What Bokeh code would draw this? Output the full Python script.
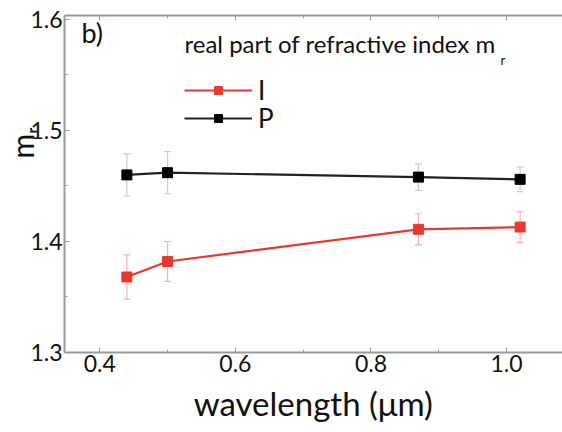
from bokeh.plotting import figure
from bokeh.models import (ColumnDataSource, Whisker, TeeHead, Legend, LegendItem,
                          LinearAxis, Label, FixedTicker, Range1d, Title)
from bokeh.embed import file_html
from bokeh.resources import INLINE

# Real part of the refractive index versus wavelength
wavelength = [0.44, 0.50, 0.87, 1.02]
mr_I = [1.368, 1.382, 1.411, 1.413]
err_I = [0.020, 0.018, 0.014, 0.014]
mr_P = [1.460, 1.462, 1.458, 1.456]
err_P = [0.019, 0.019, 0.012, 0.011]

x_ticks = [0.4, 0.6, 0.8, 1.0]
x_minor = [0.5, 0.7, 0.9]
y_ticks = [1.3, 1.4, 1.5, 1.6]
y_minor = [1.35, 1.45, 1.55]

FONT = "Lato"
RED = "#e8392f"
RED_ERR = "#f5b5b1"
BLACK = "#000000"
GRAY_ERR = "#cccccc"
AXIS = "#9a9a9a"
TEXT = "#111111"

p = figure(width=562, height=432, output_backend="svg", toolbar_location=None,
           x_range=Range1d(0.348, 1.0825), y_range=Range1d(1.3, 1.6036),
           min_border_left=64, min_border_right=0, min_border_top=15,
           min_border_bottom=80)
p.outline_line_color = None
p.grid.visible = False
p.background_fill_color = "white"
p.border_fill_color = "white"

src_I = ColumnDataSource(dict(x=wavelength, y=mr_I,
                              lo=[v - e for v, e in zip(mr_I, err_I)],
                              hi=[v + e for v, e in zip(mr_I, err_I)]))
src_P = ColumnDataSource(dict(x=wavelength, y=mr_P,
                              lo=[v - e for v, e in zip(mr_P, err_P)],
                              hi=[v + e for v, e in zip(mr_P, err_P)]))

for src, col in ((src_I, RED_ERR), (src_P, GRAY_ERR)):
    w = Whisker(source=src, base="x", upper="hi", lower="lo",
                line_color=col, line_width=1.2,
                upper_head=TeeHead(size=7, line_color=col, line_width=1.2),
                lower_head=TeeHead(size=7, line_color=col, line_width=1.2))
    p.add_layout(w)

l_I = p.line("x", "y", source=src_I, line_color=RED, line_width=2.2)
s_I = p.scatter("x", "y", source=src_I, marker="square", size=10,
                fill_color=RED, line_color=RED)
l_P = p.line("x", "y", source=src_P, line_color="#222222", line_width=2.2)
s_P = p.scatter("x", "y", source=src_P, marker="square", size=10,
                fill_color=BLACK, line_color=BLACK)

# axes: ticks pointing inward, grey axis lines
for ax in (p.xaxis[0], p.yaxis[0]):
    ax.axis_line_color = AXIS
    ax.axis_line_width = 2
    ax.major_tick_line_color = AXIS
    ax.minor_tick_line_color = AXIS
    ax.major_tick_in = 5
    ax.major_tick_out = 0
    ax.minor_tick_in = 3
    ax.minor_tick_out = 0
    ax.major_label_text_font = FONT
    ax.major_label_text_font_size = "23px"
    ax.major_label_text_color = TEXT
    ax.major_label_standoff = 2

p.xaxis[0].ticker = FixedTicker(ticks=x_ticks, minor_ticks=x_minor)
p.yaxis[0].ticker = FixedTicker(ticks=y_ticks, minor_ticks=y_minor)
p.xaxis[0].major_label_overrides = {0.4: "0.4", 0.6: "0.6", 0.8: "0.8", 1.0: "1.0"}
p.xaxis.axis_label = "wavelength (\u03bcm)"
p.xaxis.axis_label_text_font = FONT
p.xaxis.axis_label_text_font_size = "33px"
p.xaxis.axis_label_text_font_style = "normal"
p.xaxis.axis_label_text_color = TEXT
p.xaxis.axis_label_standoff = 8

top = LinearAxis(ticker=FixedTicker(ticks=x_ticks, minor_ticks=x_minor),
                 axis_line_color=AXIS, axis_line_width=2,
                 major_tick_line_color=AXIS, minor_tick_line_color=AXIS,
                 major_tick_in=5, major_tick_out=0, minor_tick_in=3, minor_tick_out=0,
                 major_label_overrides={t: "" for t in x_ticks},
                 major_label_standoff=0)
p.add_layout(top, "above")

# y-axis label m_r, tucked in over the tick-label column
ylab = Title(text="m\u1d63", align="left", offset=194, standoff=-24,
             text_font=FONT, text_font_size="30px", text_font_style="normal",
             text_color=TEXT)
p.add_layout(ylab, "left")

p.add_layout(Label(x=17, y=304, x_units="screen", y_units="screen", text="b)",
                   text_font=FONT, text_font_size="27px", text_color=TEXT))

# legend heading with subscript r
p.add_layout(Label(x=120, y=309, x_units="screen", y_units="screen",
                   text="real part of refractive index m", text_baseline="middle",
                   text_font=FONT, text_font_size="24px", text_color=TEXT))
p.add_layout(Label(x=436, y=285, x_units="screen", y_units="screen", text="r",
                   text_font=FONT, text_font_size="13px", text_color=TEXT))

# one legend per series so the two rows sit close together
legend_style = dict(padding=0, margin=0, spacing=0, glyph_width=68,
                    glyph_height=20, label_height=20, label_standoff=6,
                    border_line_color=None, background_fill_alpha=0,
                    label_text_font=FONT, label_text_font_size="26px",
                    label_text_color=TEXT)
p.add_layout(Legend(items=[LegendItem(label="I", renderers=[l_I, s_I])],
                    location=(120, 246), **legend_style))
p.add_layout(Legend(items=[LegendItem(label="P", renderers=[l_P, s_P])],
                    location=(120, 218), **legend_style))

open("out.html", "w").write(file_html(p, INLINE))
